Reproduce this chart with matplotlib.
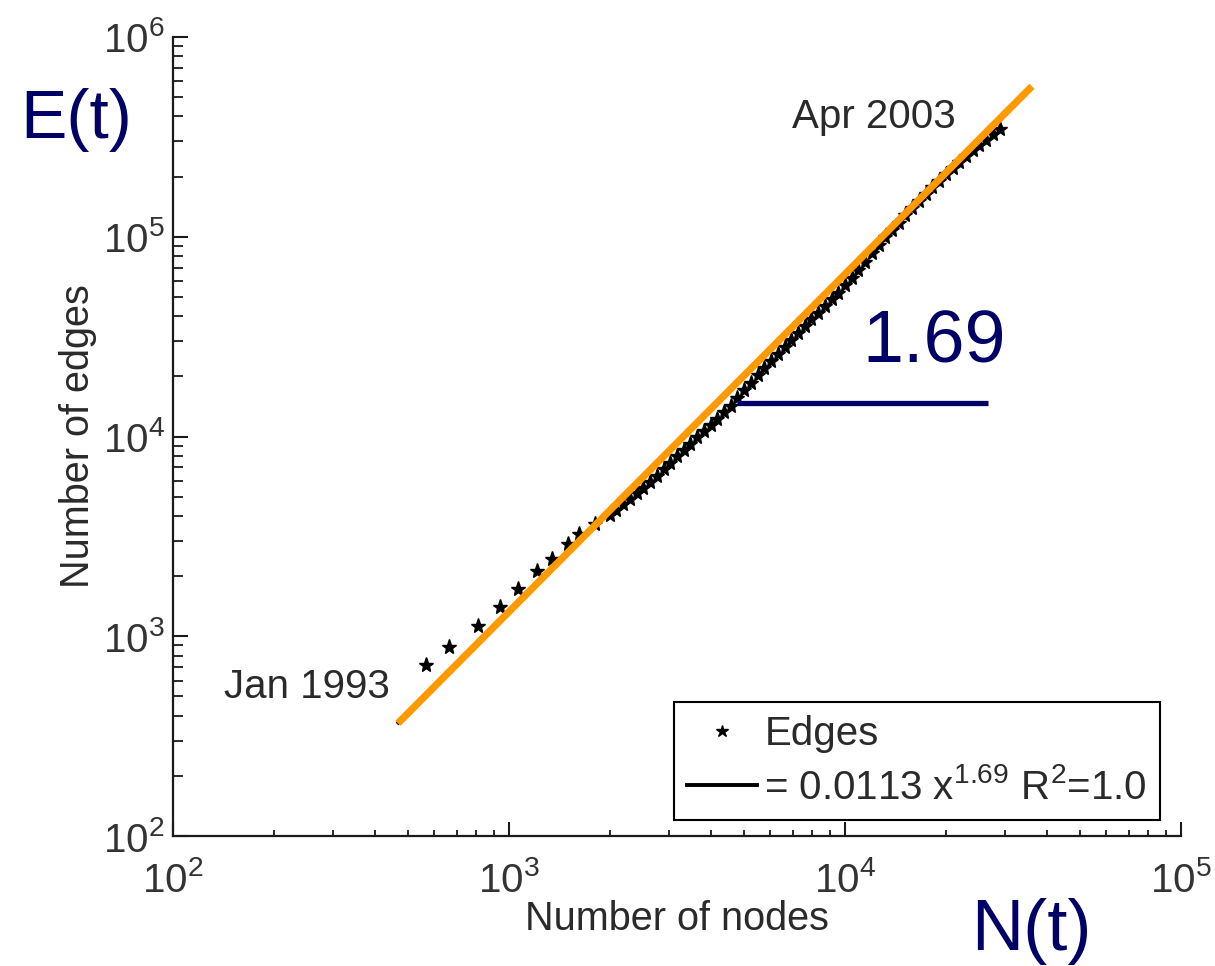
import matplotlib
matplotlib.use("Agg")
import matplotlib.pyplot as plt
import numpy as np
from matplotlib.ticker import LogLocator, NullFormatter

plt.rcParams['font.family'] = ['Liberation Sans', 'DejaVu Sans']
plt.rcParams['mathtext.fontset'] = 'custom'
plt.rcParams['mathtext.rm'] = 'Liberation Sans'
plt.rcParams['mathtext.it'] = 'Liberation Sans:italic'
plt.rcParams['mathtext.bf'] = 'Liberation Sans:bold'

# Monthly snapshots, Jan 1993 -> Apr 2003: number of nodes and edges
nodes = [565, 662, 811, 940, 1067, 1209, 1345, 1501, 1618, 1803, 2000,
         2089, 2188, 2291, 2399, 2512, 2630, 2754, 2884, 3020, 3162,
         3311, 3467, 3631, 3802, 3981, 4169, 4365, 4571, 4786, 5012,
         5248, 5495, 5754, 6026, 6310, 6607, 6918, 7244, 7586, 7943,
         8318, 8710, 9120, 9550, 10000, 10471, 10965, 11482, 12023, 12589,
         13183, 13804, 14454, 15136, 15849, 16596, 17378, 18197, 19055, 19953,
         20893, 21878, 22909, 23988, 25119, 26303, 27542, 28840]
edges = [716, 885, 1122, 1402, 1733, 2113, 2446, 2908, 3264, 3660, 4027,
         4276, 4577, 4880, 5200, 5546, 5916, 6375, 6867, 7396, 7971,
         8576, 9215, 9908, 10641, 11440, 12303, 13243, 14256, 15596, 17042,
         18621, 20277, 22055, 24008, 26031, 28216, 30590, 33037, 35686, 38548,
         41640, 44978, 48586, 52481, 57190, 62500, 68320, 75090, 82660, 91060,
         99350, 108140, 117730, 127940, 139000, 151010, 164060, 177010, 190500, 205120,
         220400, 236300, 253200, 270600, 287800, 306200, 325500, 346300]

# Power-law fit E = a * N^b
fit_a = 0.0113
fit_b = 1.69
fit_label = r"= 0.0113 x$^{\mathrm{1.69}}$ R$^{\mathrm{2}}$=1.0"
slope_text = "1.69"

navy = '#000066'
orange = '#FF9900'
txt = '#2a2a2a'

fig = plt.figure(figsize=(12.15, 9.66), dpi=100)
ax = fig.add_axes([173/1215, 1-836/966, 1008/1215, 799/966])
ax.set_xscale('log')
ax.set_yscale('log')
ax.set_xlim(1e2, 1e5)
ax.set_ylim(1e2, 1e6)

# data and fit
ax.plot(nodes, edges, linestyle='none', marker='*', markersize=11,
        color='black', markeredgecolor='black', label='Edges', zorder=3)
xf = np.array([nodes[0] * 0.83, nodes[-1]])
ax.plot(xf, fit_a * xf ** fit_b, color='black', lw=2.8, label=fit_label, zorder=2)

# highlighted fit line
xo = np.array([467, 36000])
ax.plot(xo, fit_a * xo ** fit_b, color=orange, lw=5.2,
        solid_capstyle='butt', zorder=4)

# slope marker
ax.plot([4775, 26650], [14790, 14790], color=navy, lw=3.8,
        solid_capstyle='butt', zorder=5)
ax.text(0.6836, 0.592, slope_text, transform=ax.transAxes, color=navy,
        fontsize=53, ha='left', va='baseline')

ax.text(0.614, 0.886, 'Apr 2003', transform=ax.transAxes, color=txt,
        fontsize=29, ha='left', va='baseline')
ax.text(0.0506, 0.1727, 'Jan 1993', transform=ax.transAxes, color=txt,
        fontsize=29, ha='left', va='baseline')

# spines and ticks
for s in ['top', 'right']:
    ax.spines[s].set_visible(False)
for s in ['left', 'bottom']:
    ax.spines[s].set_linewidth(1.6)
    ax.spines[s].set_color('#1a1a1a')

ax.xaxis.set_minor_locator(LogLocator(base=10, subs=np.arange(2, 10), numticks=20))
ax.yaxis.set_minor_locator(LogLocator(base=10, subs=np.arange(2, 10), numticks=20))
ax.xaxis.set_minor_formatter(NullFormatter())
ax.yaxis.set_minor_formatter(NullFormatter())
ax.tick_params(axis='x', which='major', direction='in', length=10, width=1.5,
               labelsize=29, labelcolor='#333333', pad=18, color='#1a1a1a')
ax.tick_params(axis='x', which='minor', direction='in', length=4, width=1.3,
               color='#1a1a1a')
ax.tick_params(axis='y', which='major', direction='in', length=11, width=1.5,
               labelsize=29, labelcolor='#333333', pad=6, color='#1a1a1a')
ax.tick_params(axis='y', which='minor', direction='in', length=7, width=1.3,
               color='#1a1a1a')

ax.set_xlabel('Number of nodes', fontsize=28.5, color=txt, labelpad=0)
ax.set_ylabel('Number of edges', fontsize=28.5, color=txt, labelpad=4)

leg = ax.legend(loc='lower right', bbox_to_anchor=(1160/1215, 1-820/966),
                bbox_transform=fig.transFigure, fontsize=29, frameon=True,
                fancybox=False, framealpha=1, edgecolor='black',
                handlelength=1.75, handletextpad=0.18, borderpad=0.32,
                labelspacing=0.38, numpoints=1, borderaxespad=0,
                markerscale=0.8)
leg.get_frame().set_linewidth(1.5)
for t in leg.get_texts():
    t.set_color(txt)

fig.text(20/1215, 1-138/966, 'E(t)', color=navy, fontsize=50,
         ha='left', va='baseline')
fig.text(971/1215, 1-950/966, 'N(t)', color=navy, fontsize=52,
         ha='left', va='baseline')

fig.savefig('out.png', dpi=100, facecolor='white')
